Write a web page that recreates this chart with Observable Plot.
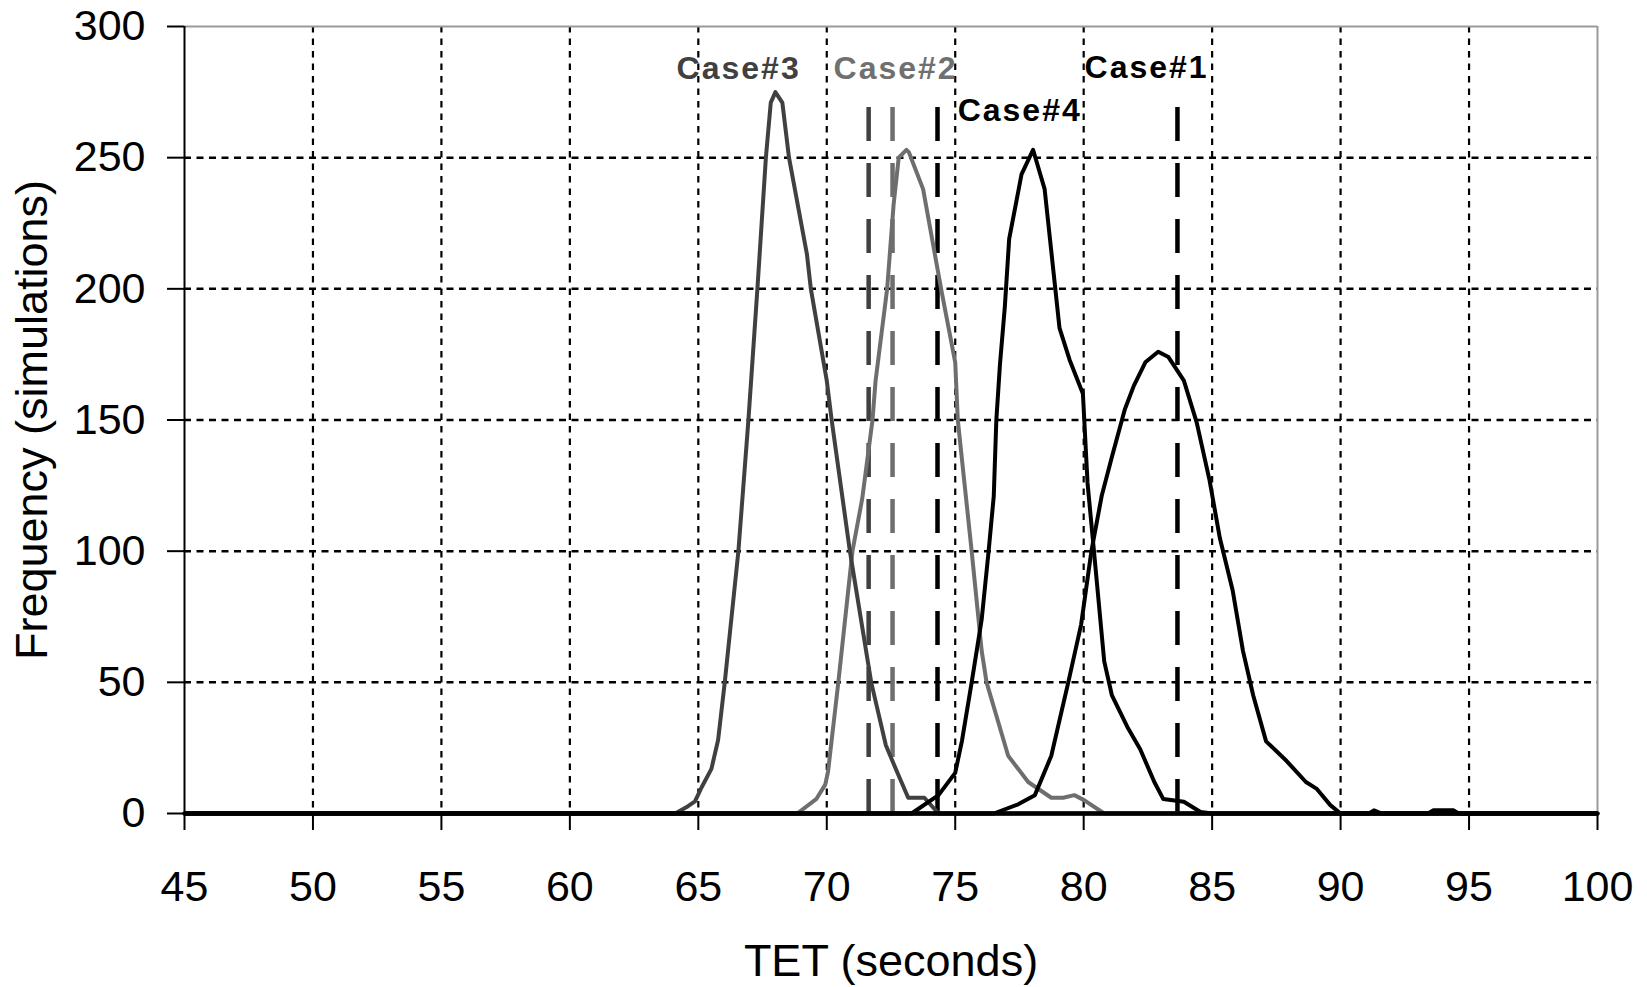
<!DOCTYPE html>
<html>
<head>
<meta charset="utf-8">
<script src="https://cdn.jsdelivr.net/npm/d3@7"></script>
<script src="https://cdn.jsdelivr.net/npm/@observablehq/plot@0.6"></script>
<style>
  html, body { margin: 0; padding: 0; background: #fff; }
  #chart svg { display: block; }
</style>
</head>
<body>
<div id="chart"></div>
<script>
// ---- data ----
const xTicks = [45, 50, 55, 60, 65, 70, 75, 80, 85, 90, 95, 100];
const yTicks = [0, 50, 100, 150, 200, 250, 300];
const xGrid = [50, 55, 60, 65, 70, 75, 80, 85, 90, 95];
const yGrid = [50, 100, 150, 200, 250];

const caseNames = ["Case#1", "Case#2", "Case#3", "Case#4"];
const caseColors = ["#000000", "#6e6e6e", "#404040", "#000000"];
// vertical dashed reference values (seconds)
const refX = [83.65, 72.56, 71.63, 74.31];
const refTop = 274;
// label anchor positions (data units)
const labelX = [82.45, 72.68, 66.57, 77.51];
const labelY = [284.4, 284, 284, 268];

const case3X = [45, 64.1, 64.6, 64.87, 65.13, 65.51, 65.77, 66.03, 66.56, 66.95, 67.3, 67.63, 67.82, 68.0, 68.27, 68.53, 69.23, 69.38, 70.0, 70.19, 70.9, 71.73, 72.3, 72.75, 73.17, 73.8, 74.35, 100];
const case3Y = [0, 0, 2.8, 4.6, 10, 17, 28, 50, 100, 150, 200, 250, 271, 275, 271, 250, 213, 200, 165, 150, 100, 50, 26, 15.5, 6, 6, 0, 0];

const case2X = [45, 68.85, 69.6, 69.94, 70.05, 70.45, 71.0, 71.38, 71.78, 71.9, 72.35, 72.6, 72.8, 73.1, 73.2, 73.75, 74.45, 75.0, 75.1, 75.64, 76.03, 76.22, 77.06, 77.84, 78.74, 79.2, 79.64, 80.03, 80.8, 100];
const case2Y = [0, 0, 5.6, 11, 16, 50, 100, 120, 150, 165, 200, 232, 250, 253, 252, 238, 200, 172, 150, 100, 62, 50, 22, 12, 6, 6, 7, 5, 0, 0];

const case4X = [45, 73.3, 74.35, 75.0, 75.26, 75.64, 76.03, 76.3, 76.5, 76.6, 76.74, 76.93, 77.1, 77.58, 78.03, 78.48, 79.06, 79.45, 79.97, 80.15, 80.4, 80.8, 81.1, 81.7, 82.2, 82.75, 83.1, 83.9, 84.55, 85, 100];
const case4Y = [0, 0, 7, 15.5, 27.6, 50, 74, 100, 121, 150, 171, 193, 219, 243.6, 253, 238, 185, 173, 160, 126, 100, 58, 45, 33, 24.5, 12, 5.5, 4.5, 0.6, 0, 0];

const case1X = [45, 76.5, 77.45, 78.1, 78.74, 79.4, 79.9, 80.3, 80.7, 81.1, 81.6, 81.95, 82.4, 82.9, 83.3, 83.9, 84.4, 84.9, 85.3, 85.8, 86.2, 86.6, 87.1, 87.9, 88.65, 89.06, 89.6, 90, 91.1, 91.3, 91.6, 93.4, 93.6, 94.4, 94.6, 100];
const case1Y = [0, 0, 3.5, 7, 22, 50, 72, 100, 121, 136, 154, 163, 172, 176, 174, 165, 149, 127, 105, 85, 62, 45, 27.5, 20, 12, 9.5, 3.2, 0, 0, 1.2, 0, 0, 1.2, 1.2, 0, 0];

// ---- build tables ----
const toRows = (xs, ys) => xs.map((x, i) => ({x, y: ys[i]}));
const series = [
  {name: "Case#2", color: caseColors[1], rows: toRows(case2X, case2Y)},
  {name: "Case#3", color: caseColors[2], rows: toRows(case3X, case3Y)},
  {name: "Case#1", color: caseColors[0], rows: toRows(case1X, case1Y)},
  {name: "Case#4", color: caseColors[3], rows: toRows(case4X, case4Y)}
];
const font = "'Liberation Sans', Arial, Helvetica, sans-serif";

const marks = [];
// grid
marks.push(Plot.ruleY(yGrid, {stroke: "#000", strokeWidth: 2.5, strokeDasharray: "7,5.5"}));
marks.push(Plot.ruleX(xGrid, {stroke: "#000", strokeWidth: 2.2, strokeDasharray: "6.5,6"}));
// frame (top and right)
marks.push(Plot.ruleY([300], {stroke: "#9a9a9a", strokeWidth: 2}));
marks.push(Plot.ruleX([100], {stroke: "#9a9a9a", strokeWidth: 2}));
// dashed reference lines
caseNames.forEach((n, i) => {
  marks.push(Plot.ruleX([refX[i]], {y1: 0, y2: refTop, stroke: caseColors[i], strokeWidth: 4.5, strokeDasharray: "34,22"}));
});
// curves
series.forEach(s => {
  marks.push(Plot.line(s.rows, {x: "x", y: "y", stroke: s.color, strokeWidth: 4, strokeLinejoin: "round"}));
});
// axes
marks.push(Plot.ruleX([45], {stroke: "#000", strokeWidth: 2}));
marks.push(Plot.ruleY([0], {stroke: "#000", strokeWidth: 4.5}));
marks.push(Plot.axisY({ticks: yTicks, tickSize: 17, tickPadding: 22, fontSize: 43, strokeWidth: 2, label: null, tickFormat: d => String(d)}));
marks.push(Plot.axisX({ticks: xTicks, tickSize: 17, tickPadding: 40, fontSize: 43, strokeWidth: 2, label: null, tickFormat: d => String(d)}));
// axis titles
marks.push(Plot.text(["TET (seconds)"], {frameAnchor: "bottom", dy: 148, text: d => d, fontSize: 45, lineAnchor: "middle", textAnchor: "middle", fill: "#000"}));
marks.push(Plot.text(["Frequency (simulations)"], {frameAnchor: "left", dx: -152, rotate: -90, text: d => d, fontSize: 45, lineAnchor: "middle", textAnchor: "middle", fill: "#000"}));
// case labels
caseNames.forEach((n, i) => {
  marks.push(Plot.text([n], {x: labelX[i], y: labelY[i], text: d => d, fill: caseColors[i] === "#6e6e6e" ? "#707070" : caseColors[i], fontSize: 32, fontWeight: "bold", lineAnchor: "middle", textAnchor: "middle"}));
});

const chart = Plot.plot({
  width: 1647,
  height: 987,
  marginLeft: 184,
  marginRight: 50,
  marginTop: 26,
  marginBottom: 174,
  x: {domain: [45, 100]},
  y: {domain: [0, 300]},
  style: {fontFamily: font, fontSize: "43px", color: "#000", background: "#fff", overflow: "visible"},
  marks
});
document.getElementById("chart").appendChild(chart);
// letter spacing for bold case labels
chart.querySelectorAll("text").forEach(t => {
  if (/^Case#/.test(t.textContent)) t.setAttribute("letter-spacing", "2");
});
</script>
</body>
</html>
